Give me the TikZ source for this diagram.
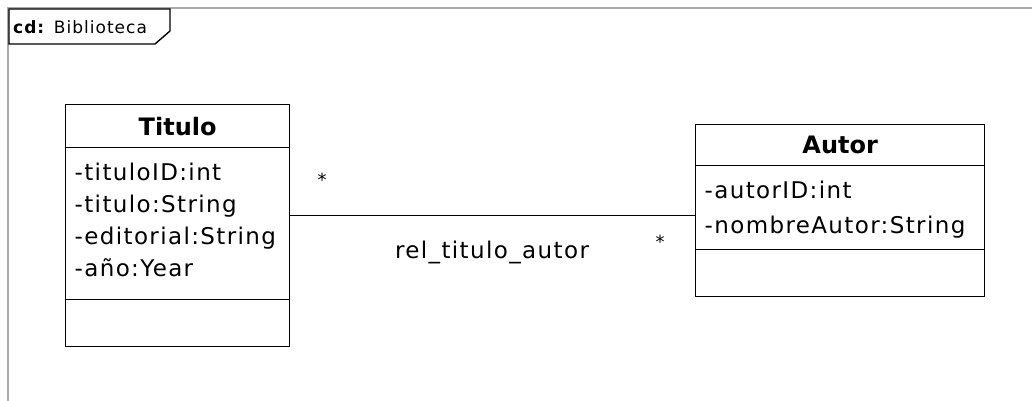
\documentclass[tikz,border=0pt]{standalone}
\usepackage{fontspec}
\setmainfont{DejaVu Sans}[LetterSpace=6]
\newfontfamily\headfont{DejaVu Sans}
\usetikzlibrary{positioning,shapes.multipart}

% class compartments: width, height, text
\newcommand{\umlhead}[3]{\parbox[c][#2][c]{#1}{\centering\headfont\fontsize{24pt}{28pt}\selectfont\bfseries #3}}
\newcommand{\umlattrs}[4]{\parbox[t][#2][t]{#1}{\raggedright\leftskip=9pt\fontsize{23pt}{#3}\selectfont\rule{0pt}{32.5pt}#4}}
\newcommand{\umlempty}[2]{\parbox[c][#2][c]{#1}{}}

\begin{document}
\begin{tikzpicture}[x=1pt,y=-1pt]
\tikzstyle{every node}=[font=\fontsize{23pt}{28pt}\selectfont]
\tikzstyle{umlclass}=[rectangle split, rectangle split parts=3, draw=black,
line width=1.3pt, inner sep=0pt, anchor=north west]

\useasboundingbox (0,0) rectangle (1032,401);

% diagram frame and its tab
\draw[line width=2pt, color=black!33] (8,401) -- (8,8) -- (1032,8);
\draw[line width=1.4pt, fill=white] (9,9) -- (170,9) -- (170,31) -- (155,44) -- (9,44) -- cycle;
\node[anchor=west, inner sep=0pt, font=\fontsize{17pt}{20pt}\selectfont] at (13,27) (framelabel) {\textbf{cd:} Biblioteca};

\node[umlclass] at (65,104) (titulo) {
\umlhead{224pt}{41.7pt}{Titulo}
\nodepart{two}%
\umlattrs{224pt}{150.7pt}{32pt}{-tituloID:int\\
-titulo:String\\
-editorial:String\\
-año:Year}
\nodepart{three}%
\umlempty{224pt}{45.7pt}
};

\node[umlclass] at (695,124) (autor) {
\umlhead{289pt}{39.7pt}{Autor}
\nodepart{two}%
\umlattrs{289pt}{82.7pt}{34.5pt}{-autorID:int\\
-nombreAutor:String}
\nodepart{three}%
\umlempty{289pt}{45.7pt}
};

\draw[line width=1.3pt] ([yshift=10pt]titulo.east) -- ([yshift=10pt]titulo.east -| autor.west);

\node[font=\fontsize{18pt}{20pt}\selectfont] at (322,180) (multtitulo) {*};
\node[font=\fontsize{18pt}{20pt}\selectfont] at (660,242) (multautor) {*};
\node at (492,252) (rel) {rel\_titulo\_autor};

\end{tikzpicture}
\end{document}
